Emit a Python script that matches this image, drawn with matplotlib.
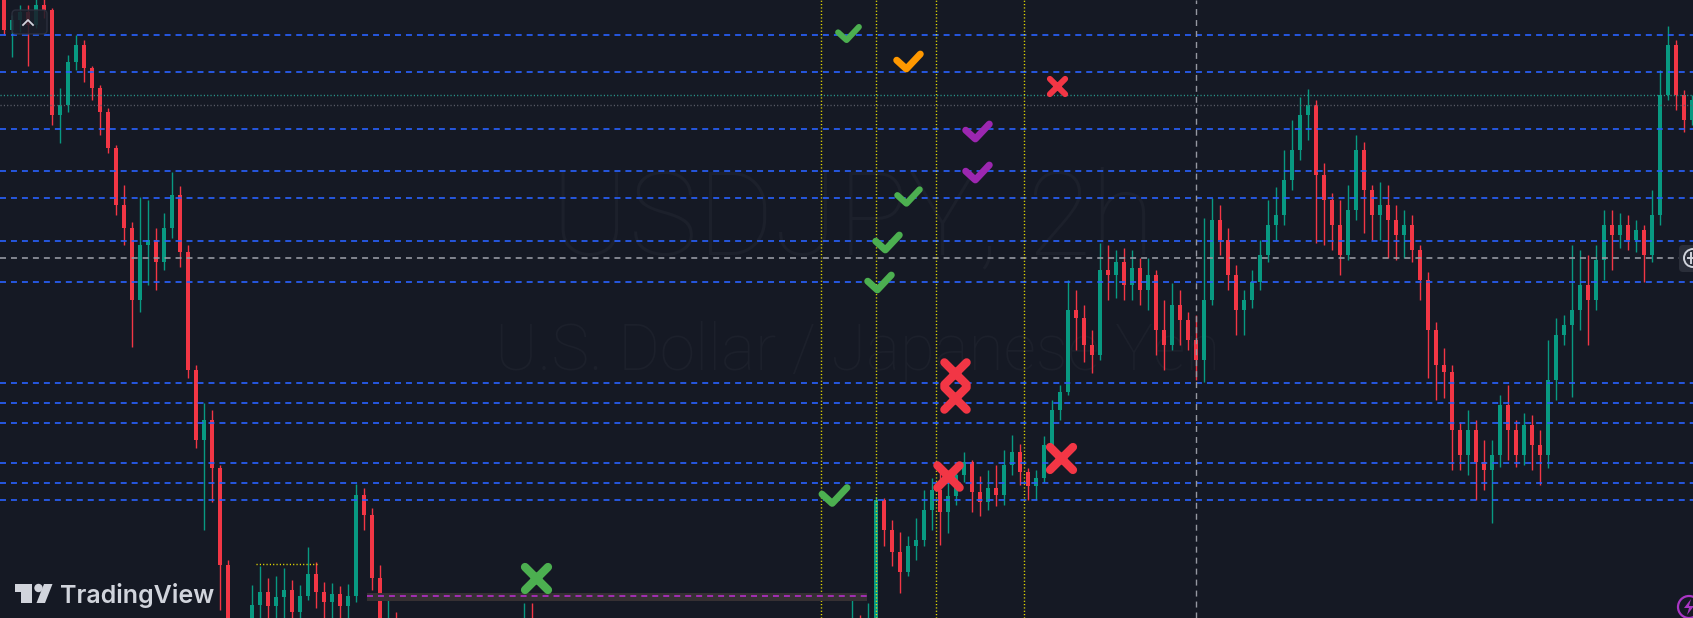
"""
plot.py
USDJPY 2h chart with signal marks (dark TradingView look)
"""

import matplotlib
matplotlib.use("Agg")

import matplotlib.pyplot as plt
from matplotlib.patches import Rectangle, FancyBboxPatch, Circle, Polygon
from matplotlib.markers import MarkerStyle
from matplotlib.path import Path
from matplotlib.transforms import IdentityTransform

# ── CONFIG ─────────────────────────────────────────────
W, H = 1693, 618
BAR_PX = 8.0
BG = "#151924"
UP = "#089981"
DOWN = "#F23645"
BLUE = "#2962FF"
YELLOW = "#F2E600"

plt.rcParams["lines.scale_dashes"] = False

# ── DATA ──────────────────────────────────────────────
FIRST_OPEN = 161.05

closes = [
    160.70, 160.80, 160.88, 160.75, 160.95, 160.90, 159.85, 159.95, 160.38, 160.55,
    160.32, 160.12, 159.88, 159.52, 158.95, 158.72, 158.00, 158.55, 158.60, 158.38,
    158.72, 159.05, 158.48, 157.30, 156.60, 156.80, 156.32, 155.35, 154.40, 154.28,
    154.50, 154.95, 155.08, 154.94, 155.03, 155.10, 154.88, 155.04, 155.26, 155.08,
    154.98, 155.06, 154.94, 155.04, 156.05, 155.85, 155.22, 154.60, 154.82, 154.48,
    154.32, 154.10, 154.20, 154.00, 154.10, 153.95, 154.05, 154.20, 154.28, 154.15,
    154.32, 154.40, 154.35, 154.50, 154.58, 154.72, 154.65, 154.42, 154.28, 154.12,
    154.00, 154.10, 153.95, 153.85, 153.92, 153.80, 153.88, 154.00, 153.94, 154.05,
    154.12, 154.02, 154.15, 154.24, 154.10, 154.00, 154.08, 154.20, 154.28, 154.16,
    154.24, 154.35, 154.30, 154.40, 154.34, 154.45, 154.38, 154.48, 154.42, 154.52,
    154.45, 154.55, 154.50, 154.60, 154.52, 154.62, 154.72, 154.58, 154.74, 156.00,
    155.70, 155.48, 155.28, 155.54, 155.60, 155.90, 156.10, 155.88, 156.04, 156.25,
    156.38, 156.08, 155.98, 156.12, 156.05, 156.35, 156.48, 156.28, 156.14, 156.22,
    156.55, 156.90, 157.08, 157.90, 157.82, 157.55, 157.45, 158.30, 158.25, 158.38,
    158.15, 158.32, 158.10, 158.25, 157.70, 157.55, 157.95, 157.80, 157.60, 157.40,
    158.00, 158.80, 158.60, 158.25, 157.90, 158.00, 158.18, 158.45, 158.75, 158.85,
    159.20, 159.50, 159.85, 159.95, 159.25, 159.00, 158.75, 158.45, 158.90, 159.50,
    159.10, 158.85, 158.95, 158.80, 158.65, 158.75, 158.50, 158.20, 157.70, 157.35,
    157.28, 156.70, 156.45, 156.70, 156.38, 156.30, 156.45, 156.95, 156.70, 156.45,
    156.75, 156.55, 156.45, 157.20, 157.65, 157.75, 157.90, 158.15, 158.00, 158.40,
    158.75, 158.65, 158.75, 158.60, 158.70, 158.45, 158.85, 160.05, 160.55, 160.05,
    159.80, 160.00,
]

highs = [
    161.10, 160.85, 160.95, 160.95, 161.05, 161.03, 160.92, 160.12, 160.45, 160.65,
    160.60, 160.34, 160.15, 159.92, 159.55, 159.15, 158.78, 159.03, 159.00, 158.72,
    158.87, 159.28, 159.14, 158.55, 157.35, 156.97, 156.90, 156.35, 155.40, 154.60,
    154.68, 155.15, 155.34, 155.22, 155.24, 155.32, 155.20, 155.15, 155.53, 155.38,
    155.18, 155.17, 155.14, 155.16, 156.16, 156.12, 155.92, 155.35, 155.06, 154.88,
    154.60, 154.40, 154.35, 154.25, 154.20, 154.15, 154.12, 154.28, 154.40, 154.35,
    154.45, 154.52, 154.55, 154.65, 154.72, 154.97, 154.97, 154.75, 154.50, 154.35,
    154.18, 154.20, 154.12, 154.02, 154.00, 153.96, 154.00, 154.10, 154.05, 154.15,
    154.24, 154.20, 154.25, 154.35, 154.30, 154.15, 154.16, 154.28, 154.40, 154.34,
    154.36, 154.45, 154.48, 154.52, 154.50, 154.58, 154.55, 154.62, 154.60, 154.65,
    154.60, 154.68, 154.64, 154.72, 154.68, 154.78, 155.01, 154.85, 154.97, 156.03,
    156.02, 155.80, 155.68, 155.64, 155.82, 156.10, 156.22, 156.30, 156.20, 156.38,
    156.48, 156.40, 156.24, 156.30, 156.35, 156.50, 156.65, 156.56, 156.32, 156.30,
    156.64, 157.00, 157.15, 158.20, 158.10, 157.95, 157.70, 158.57, 158.55, 158.50,
    158.52, 158.50, 158.42, 158.42, 158.30, 158.00, 158.17, 158.10, 157.88, 157.85,
    158.82, 159.02, 158.95, 158.72, 158.35, 158.10, 158.30, 158.60, 159.00, 159.13,
    159.50, 159.80, 160.03, 160.11, 160.00, 159.37, 159.07, 159.00, 159.15, 159.65,
    159.58, 159.15, 159.18, 159.15, 158.95, 158.90, 158.85, 158.55, 158.28, 157.78,
    157.52, 157.35, 156.78, 156.90, 156.80, 156.60, 156.60, 157.05, 157.15, 156.80,
    156.87, 156.85, 156.70, 157.60, 157.82, 157.85, 158.55, 158.50, 158.45, 158.55,
    158.90, 158.90, 158.87, 158.85, 158.80, 158.75, 159.10, 160.30, 160.74, 160.60,
    160.10, 160.05,
]

lows = [
    160.65, 160.43, 160.68, 160.34, 160.72, 160.82, 159.75, 159.57, 159.88, 160.30,
    160.18, 160.00, 159.65, 159.47, 158.85, 158.55, 157.53, 157.88, 158.15, 158.10,
    158.30, 158.62, 158.33, 157.22, 156.52, 155.70, 155.98, 154.90, 154.10, 154.00,
    154.10, 154.45, 154.78, 154.68, 154.75, 154.80, 154.60, 154.72, 155.00, 154.92,
    154.72, 154.70, 154.68, 154.78, 154.98, 155.70, 155.10, 154.38, 154.55, 154.28,
    154.10, 153.95, 154.00, 153.85, 153.88, 153.80, 153.84, 154.00, 154.08, 154.00,
    154.10, 154.20, 154.18, 154.28, 154.40, 154.50, 154.48, 154.25, 154.10, 153.95,
    153.85, 153.88, 153.80, 153.70, 153.72, 153.65, 153.72, 153.80, 153.78, 153.88,
    153.95, 153.88, 153.98, 154.05, 153.95, 153.84, 153.90, 154.02, 154.10, 154.00,
    154.08, 154.16, 154.12, 154.22, 154.18, 154.28, 154.20, 154.30, 154.25, 154.32,
    154.28, 154.35, 154.30, 154.38, 154.32, 154.40, 154.50, 154.40, 154.55, 154.60,
    155.54, 155.34, 155.07, 155.24, 155.40, 155.54, 155.70, 155.55, 155.67, 155.95,
    156.18, 155.88, 155.84, 155.90, 155.94, 155.95, 156.25, 156.15, 156.00, 156.00,
    156.18, 156.50, 156.80, 157.05, 157.50, 157.38, 157.27, 157.40, 158.00, 158.02,
    158.00, 158.00, 157.95, 157.90, 157.45, 157.30, 157.50, 157.55, 157.50, 157.20,
    157.18, 157.95, 158.45, 158.10, 157.65, 157.65, 157.92, 158.10, 158.38, 158.60,
    158.75, 159.10, 159.40, 159.60, 158.57, 158.55, 158.50, 158.25, 158.40, 158.80,
    158.67, 158.60, 158.60, 158.42, 158.40, 158.42, 158.38, 158.00, 157.22, 157.00,
    157.02, 156.30, 156.30, 156.25, 156.00, 156.10, 155.77, 156.33, 156.40, 156.33,
    156.35, 156.30, 156.15, 156.32, 157.00, 157.55, 157.03, 157.70, 157.55, 157.90,
    158.20, 158.30, 158.52, 158.50, 158.48, 158.18, 158.38, 158.75, 160.00, 159.90,
    159.68, 159.75,
]

# horizontal levels (price)
blue_levels = [160.65, 160.28, 159.71, 159.29, 159.02, 158.59, 158.18,
               157.17, 156.97, 156.77, 156.37, 156.17, 156.00]
gray_level = 158.42
teal_level = 160.05
gray_dot_level = 159.95

# vertical session marks (bar index)
yellow_vlines = [102.1, 109.0, 116.5, 127.5]
gray_vline = 149.0

# range box / short line
box_start, box_end, box_price = 45.4, 107.9, 155.04
box_top, box_bottom = 155.07, 154.99
hi_start, hi_end, hi_price = 31.5, 39.1, 155.36

# signals: bar index, price, kind
sig_x = [105.5, 113.0, 131.6, 121.6, 121.6, 113.0, 110.4, 109.4,
         118.9, 118.9, 118.0, 132.1, 103.75, 66.5]
sig_y = [160.67, 160.39, 160.14, 159.69, 159.28, 159.04, 158.58, 158.18,
         157.27, 157.02, 156.24, 156.42, 156.05, 155.22]
sig_kind = ["win", "partial", "loss", "alt", "alt", "win", "win", "win",
            "loss", "loss", "loss", "loss", "win", "miss"]

# ── STYLE ─────────────────────────────────────────────
CHECK = Path([(-1.0, 0.11), (-0.185, -0.63), (1.0, 0.63)],
             [Path.MOVETO, Path.LINETO, Path.LINETO])
CROSS = Path([(-1, -1), (1, 1), (-1, 1), (1, -1)],
             [Path.MOVETO, Path.LINETO, Path.MOVETO, Path.LINETO])

SIG_STYLE = {
    "win": (CHECK, "#4CAF50"),
    "partial": (CHECK, "#FF9800"),
    "alt": (CHECK, "#9C27B0"),
    "loss": (CROSS, "#F23645"),
    "miss": (CROSS, "#4CAF50"),
}
# marker span / stroke in points
sig_ms = [15, 17, 11, 17, 17, 16, 17, 17, 16, 16, 16, 16.5, 18, 16.5]
sig_mew = [4.3, 5.0, 4.3, 5.0, 5.0, 4.6, 5.0, 5.0, 6.0, 6.0, 6.0, 6.0, 5.0, 6.0]


def px(x, y):
    """pixel (from top-left) -> figure fraction"""
    return x / W, 1 - y / H


def dp(x, y):
    """pixel (from top-left) -> display coords"""
    return x, H - y


PIX = IdentityTransform()

# ── FIGURE ────────────────────────────────────────────
fig = plt.figure(figsize=(W / 100, H / 100), dpi=100, facecolor=BG)
ax = fig.add_axes([0, 0, 1, 1])
ax.set_facecolor(BG)
ax.set_xlim(-0.5, -0.5 + W / BAR_PX)
ax.set_ylim(154.82, 161.00)
ax.axis("off")

# watermark (inside the axes, under everything)
ax.text(*px(853, 222), "USDJPY, 2h", transform=ax.transAxes, ha="center", va="center",
        fontsize=84, family="Roboto", fontweight="light", color="#1C202B", zorder=0)
ax.text(*px(858, 352), "U.S. Dollar / Japanese Yen", transform=ax.transAxes,
        ha="center", va="center", fontsize=46, family="Roboto", fontweight="light",
        color="#1C202B", zorder=0)

# candles
n = len(closes)
xs = list(range(n))
opens = [FIRST_OPEN] + closes[:-1]
cols = [UP if c >= o else DOWN for o, c in zip(opens, closes)]
bottoms = [min(o, c) for o, c in zip(opens, closes)]
heights = [max(abs(c - o), 0.01) for o, c in zip(opens, closes)]

ax.vlines(xs, lows, highs, colors=cols, linewidth=1.0, zorder=3)
ax.bar(xs, heights, bottom=bottoms, width=0.55, color=cols, linewidth=0, zorder=3)

# levels
for lv in blue_levels:
    ax.axhline(lv, color=BLUE, lw=1.2, ls=(0, (4.3, 3.6)), zorder=4)
ax.axhline(gray_level, color="#9598A1", lw=1.2, ls=(0, (4.3, 3.6)), zorder=4)
ax.axhline(teal_level, color="#2A9D8F", lw=1.0, ls=(0, (0.8, 1.6)), zorder=4)
ax.axhline(gray_dot_level, color="#5D606B", lw=1.0, ls=(0, (0.8, 1.6)), zorder=4)

for vx in yellow_vlines:
    ax.axvline(vx, color=YELLOW, lw=1.0, ls=(0, (0.8, 1.6)), zorder=4)
ax.axvline(gray_vline, color="#9598A1", lw=1.0, ls=(0, (4.3, 3.6)), zorder=4)

ax.add_patch(Rectangle((box_start, box_bottom), box_end - box_start, box_top - box_bottom,
                       facecolor="#363033", edgecolor="none", zorder=4))
ax.hlines(box_price, box_start, box_end, color="#B32DC8", lw=1.2, ls=(0, (4.3, 3.6)), zorder=5)
ax.hlines(hi_price, hi_start, hi_end, color=YELLOW, lw=1.0, ls=(0, (0.8, 1.6)), zorder=5)

# signals
for x, y, k, ms, mew in zip(sig_x, sig_y, sig_kind, sig_ms, sig_mew):
    path, col = SIG_STYLE[k]
    mk = MarkerStyle(path, fillstyle="none", capstyle="round", joinstyle="round")
    ax.plot([x], [y], linestyle="none", marker=mk, ms=ms, mew=mew,
            mec=col, mfc="none", zorder=6)

# ── UI BITS ───────────────────────────────────────────
# scroll-up button
fig.patches.append(FancyBboxPatch(dp(12, 34), 35, 24,
                                  boxstyle="round,pad=0,rounding_size=4",
                                  transform=PIX, facecolor="#1A1E29",
                                  edgecolor="#2E3240", lw=1.0, alpha=0.85, zorder=7))
fig.lines.append(plt.Line2D([23, 28, 33], [H - 25, H - 20, H - 25],
                            transform=PIX, color="#D1D4DC", lw=1.3, zorder=8))

# zoom button on the right edge
fig.patches.append(FancyBboxPatch(dp(1679, 272), 22, 27,
                                  boxstyle="round,pad=0,rounding_size=4",
                                  transform=PIX, facecolor="#2A2E39",
                                  edgecolor="none", zorder=7))
fig.patches.append(Circle(dp(1693, 258), 9, transform=PIX,
                          facecolor="none", edgecolor="#D1D4DC", lw=1.4, zorder=8))
fig.lines.append(plt.Line2D([1688, 1693], [H - 258, H - 258],
                            transform=PIX, color="#D1D4DC", lw=1.4, zorder=8))
fig.lines.append(plt.Line2D([1691, 1691], [H - 253, H - 263],
                            transform=PIX, color="#D1D4DC", lw=1.4, zorder=8))

# lightning badge
fig.patches.append(Circle(dp(1689, 607), 11, transform=PIX,
                          facecolor="none", edgecolor="#A936C4", lw=1.6, zorder=8))
fig.patches.append(Polygon([dp(1691, 599), dp(1684, 608), dp(1689, 608),
                            dp(1687, 615), dp(1694, 606), dp(1689, 606)],
                           closed=True, transform=PIX, facecolor="#A936C4",
                           edgecolor="none", zorder=9))

# TradingView logo
logo = "#D1D4DC"
fig.patches.append(Polygon([dp(15, 584), dp(32, 584), dp(32, 603), dp(21, 603),
                            dp(21, 592), dp(15, 592)], closed=True,
                           transform=PIX, facecolor=logo, edgecolor="none", zorder=8))
fig.patches.append(Circle(dp(38.5, 588), 4.2, transform=PIX,
                          facecolor=logo, edgecolor="none", zorder=8))
fig.patches.append(Polygon([dp(44, 584), dp(52.5, 584), dp(45, 603), dp(36.5, 603)],
                           closed=True, transform=PIX,
                           facecolor=logo, edgecolor="none", zorder=8))
fig.text(*px(60, 603), "TradingView", ha="left", va="baseline", fontsize=18,
         family="Inter", fontweight="semibold", color=logo, zorder=8)

fig.savefig("out.png", dpi=100, facecolor=BG)
print("Saved: out.png")
